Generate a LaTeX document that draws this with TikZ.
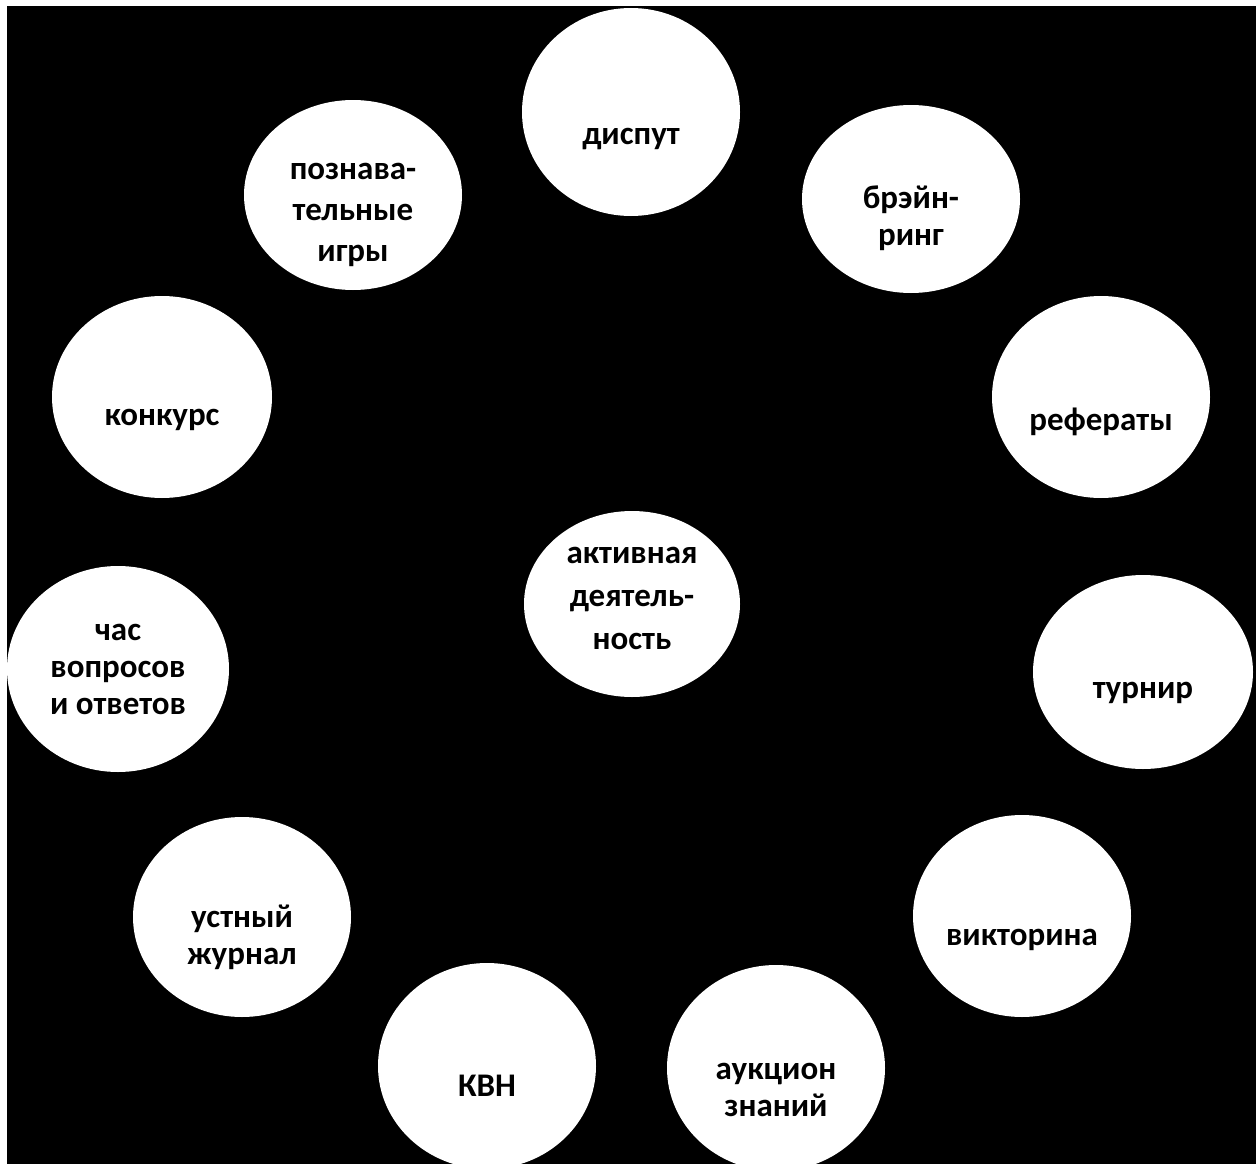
\documentclass[tikz,border=0pt]{standalone}
\usepackage{fontspec}
\setmainfont{Carlito}
\usetikzlibrary{shapes.geometric}
\tikzset{
  bubble/.style={ellipse, fill=white, draw=none, inner sep=0pt,
    minimum width=218pt, minimum height=#1},
  bubble/.default=200pt,
  lbl/.style={text=black, font=\fontsize{33}{37}\selectfont\bfseries, align=center, inner sep=0pt}
}
\begin{document}
\begin{tikzpicture}[x=1pt,y=-1pt]
\useasboundingbox (0,0) rectangle (1256,1164);
\fill[white] (0,0) rectangle (1256,1164);
\fill[black] (7,6) rectangle (1256,1164);
% bubbles
\node[bubble=208pt] (disput) at (631,112) {};
\node[bubble=188pt] (brain) at (911,199) {};
\node[bubble=202pt] (ref) at (1101,397) {};
\node[bubble=194pt, minimum width=220pt] (turnir) at (1143,672) {};
\node[bubble=202pt] (viktor) at (1022,916) {};
\node[bubble=206pt] (aukc) at (776,1068) {};
\node[bubble=206pt] (kvn) at (487,1066) {};
\node[bubble=200pt] (ustn) at (242,917) {};
\node[bubble=206pt, minimum width=222pt] (chas) at (118,669) {};
\node[bubble=202pt, minimum width=220pt] (konk) at (162,397) {};
\node[bubble=190pt] (pozn) at (353,195) {};
\node[bubble=186pt, minimum width=216pt] (akt) at (632,604) {};
% labels
\node[lbl] at ([yshift=-27pt]disput.center) {диспут};
\node[lbl] at ([yshift=-19pt]brain.center) {брэйн-\\ринг};
\node[lbl] at ([yshift=-25pt]ref.center) {рефераты};
\node[lbl] at ([yshift=-21pt]turnir.center) {турнир};
\node[lbl] at ([yshift=-24pt]viktor.center) {викторина};
\node[lbl] at ([yshift=-22pt]aukc.center) {аукцион\\знаний};
\node[lbl] at ([yshift=-20pt]kvn.center) {КВН};
\node[lbl] at ([yshift=-20pt]ustn.center) {устный\\журнал};
\node[lbl] at ([yshift=0pt]chas.center) {час\\вопросов\\и ответов};
\node[lbl] at ([yshift=-23pt]konk.center) {конкурс};
\node[lbl, font=\fontsize{33}{41}\selectfont\bfseries] at ([yshift=-20pt]pozn.center) {познава-\\тельные\\игры};
\node[lbl, font=\fontsize{33}{43}\selectfont\bfseries] at ([yshift=6pt]akt.center) {активная\\деятель-\\ность};
\end{tikzpicture}
\end{document}
